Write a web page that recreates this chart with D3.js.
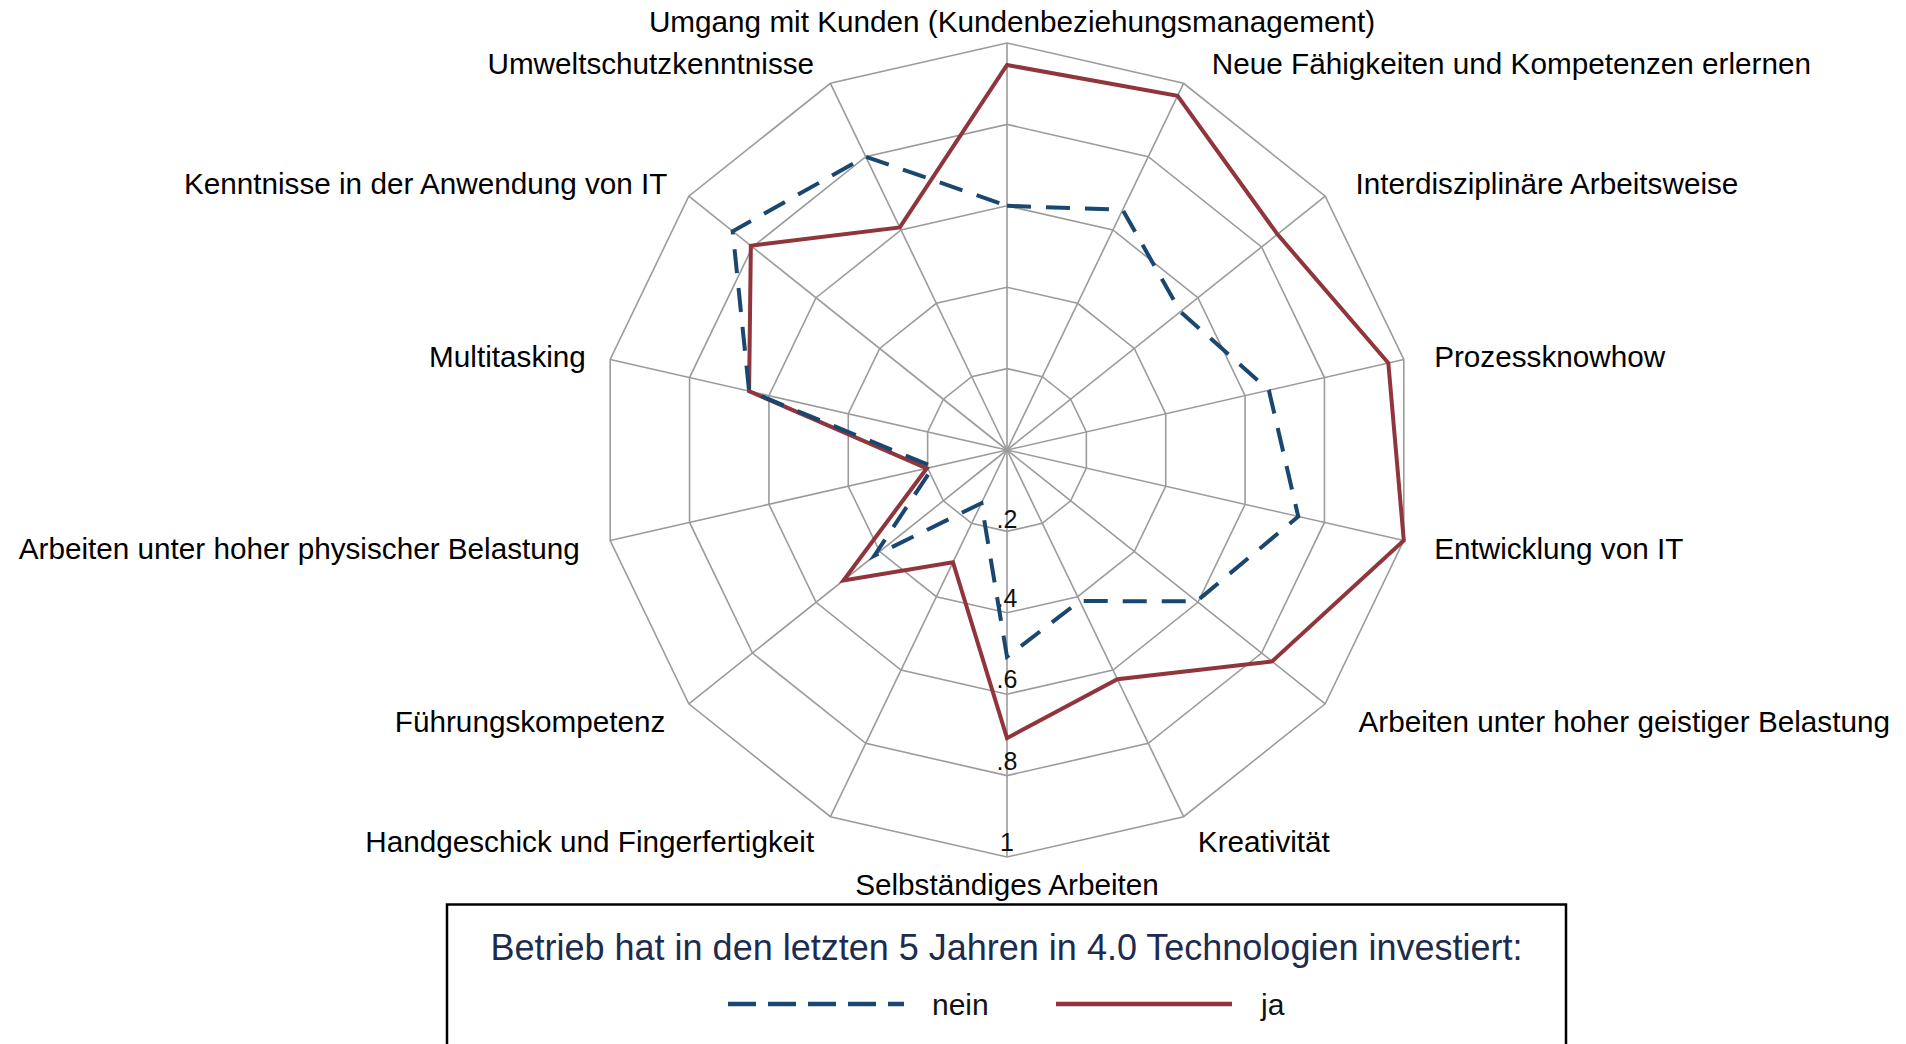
<!DOCTYPE html>
<html>

<head>
	<title>Radar</title>
	<meta charset="utf-8">
	<script src="https://cdn.jsdelivr.net/npm/d3@7"></script>
</head>

<style>
	body {
		margin: 0;
		background: #fff;
	}

	text {
		font-family: "Liberation Sans", Arial, sans-serif;
	}

	.grid {
		fill: none;
		stroke: #9b9b9b;
		stroke-width: 1.6;
	}

	.label {
		font-size: 29.7px;
		fill: #000;
	}

	.tick {
		font-size: 25px;
		fill: #111;
		text-anchor: middle;
	}
</style>

<body>
	<svg width="1906" height="1044"></svg>

	<script>
		var categories = [
			'Umgang mit Kunden (Kundenbeziehungsmanagement)',
			'Neue Fähigkeiten und Kompetenzen erlernen',
			'Interdisziplinäre Arbeitsweise',
			'Prozessknowhow',
			'Entwicklung von IT',
			'Arbeiten unter hoher geistiger Belastung',
			'Kreativität',
			'Selbständiges Arbeiten',
			'Handgeschick und Fingerfertigkeit',
			'Führungskompetenz',
			'Arbeiten unter hoher physischer Belastung',
			'Multitasking',
			'Kenntnisse in der Anwendung von IT',
			'Umweltschutzkenntnisse'
		];

		var nein = [0.60, 0.655, 0.545, 0.66, 0.734, 0.596, 0.412, 0.508, 0.145, 0.417, 0.186, 0.65, 0.862, 0.80];
		var ja = [0.946, 0.966, 0.85, 0.961, 1.0, 0.833, 0.625, 0.708, 0.306, 0.514, 0.202, 0.65, 0.805, 0.607];

		var ticks = [0.2, 0.4, 0.6, 0.8, 1];
		var tickLabels = ['.2', '.4', '.6', '.8', '1'];

		var legendTitle = 'Betrieb hat in den letzten 5 Jahren in 4.0 Technologien investiert:';
		var seriesNames = ['nein', 'ja'];
		var seriesColors = ['#1a476f', '#90353b'];
		var seriesDash = [true, false];

		// small horizontal shifts of the category labels (px)
		var labelNudge = [5, 12, 5, 0, 0, 8, -2, 0, 0, 2, 0, 6, 4, 0];

		var cx = 1007,
			cy = 450,
			R = 407;

		var svg = d3.select('svg');

		var r = d3.scaleLinear().domain([0, 1]).range([0, R]);
		var angle = d3.scaleLinear().domain([0, categories.length]).range([0, 2 * Math.PI]);

		var radar = d3.lineRadial()
			.angle(function(d, i) {
				return angle(i);
			})
			.radius(function(d) {
				return r(d);
			})
			.curve(d3.curveLinearClosed);

		var g = svg.append('g')
			.attr('transform', 'translate(' + cx + ',' + cy + ')');

		// grid rings
		g.selectAll('path.ring')
			.data(ticks)
			.enter()
			.append('path')
			.attr('class', 'grid ring')
			.attr('d', function(t) {
				return radar(categories.map(function() {
					return t;
				}));
			});

		// spokes
		g.selectAll('line.spoke')
			.data(categories)
			.enter()
			.append('line')
			.attr('class', 'grid spoke')
			.attr('x1', 0)
			.attr('y1', 0)
			.attr('x2', function(d, i) {
				return r(1) * Math.sin(angle(i));
			})
			.attr('y2', function(d, i) {
				return -r(1) * Math.cos(angle(i));
			});

		// tick labels along the bottom spoke
		g.selectAll('text.tick')
			.data(ticks)
			.enter()
			.append('text')
			.attr('class', 'tick')
			.attr('x', 0)
			.attr('y', function(t, i) {
				return r(t) - (i === 0 ? 3 : 6);
			})
			.text(function(t, i) {
				return tickLabels[i];
			});

		// series
		var series = [ja, nein];
		var seriesIdx = [1, 0];
		g.selectAll('path.series')
			.data(series)
			.enter()
			.append('path')
			.attr('class', 'series')
			.attr('d', radar)
			.attr('fill', 'none')
			.attr('stroke', function(d, i) {
				return seriesColors[seriesIdx[i]];
			})
			.attr('stroke-width', 4)
			.attr('stroke-linejoin', 'miter')
			.attr('stroke-dasharray', function(d, i) {
				return seriesDash[seriesIdx[i]] ? '24 15' : null;
			});

		// category labels
		g.selectAll('text.label')
			.data(categories)
			.enter()
			.append('text')
			.attr('class', 'label')
			.each(function(d, i) {
				var a = angle(i),
					s = Math.sin(a),
					c = Math.cos(a);
				var rr = r(1) + 26;
				var side = Math.abs(s) < 0.01 ? 0 : (s > 0 ? 1 : -1);
				d3.select(this)
					.attr('x', rr * s + side * 5 + labelNudge[i])
					.attr('y', -rr * c + 2.5 + 1.5 * c)
					.attr('dy', '0.36em')
					.attr('text-anchor', side === 0 ? 'middle' : (side > 0 ? 'start' : 'end'))
					.text(d);
			});

		// legend
		var legend = svg.append('g');
		legend.append('rect')
			.attr('x', 447)
			.attr('y', 904.5)
			.attr('width', 1119)
			.attr('height', 170)
			.attr('fill', 'none')
			.attr('stroke', '#000')
			.attr('stroke-width', 2.5);

		legend.append('text')
			.attr('x', 1006.5)
			.attr('y', 960)
			.attr('text-anchor', 'middle')
			.style('font-size', '36px')
			.style('fill', '#1d2b4f')
			.text(legendTitle);

		var itemX = [728, 1056];
		var items = legend.selectAll('g.item')
			.data(seriesNames)
			.enter()
			.append('g')
			.attr('class', 'item')
			.attr('transform', function(d, i) {
				return 'translate(' + itemX[i] + ',1004)';
			});

		items.append('line')
			.attr('x1', 0)
			.attr('x2', 176)
			.attr('y1', 0)
			.attr('y2', 0)
			.attr('stroke', function(d, i) {
				return seriesColors[i];
			})
			.attr('stroke-width', 4.5)
			.attr('stroke-dasharray', function(d, i) {
				return seriesDash[i] ? '28 12' : null;
			});

		items.append('text')
			.attr('x', function(d, i) {
				return i === 0 ? 204 : 205;
			})
			.attr('y', 11)
			.style('font-size', '30px')
			.style('fill', '#111')
			.text(function(d) {
				return d;
			});
	</script>
</body>

</html>
